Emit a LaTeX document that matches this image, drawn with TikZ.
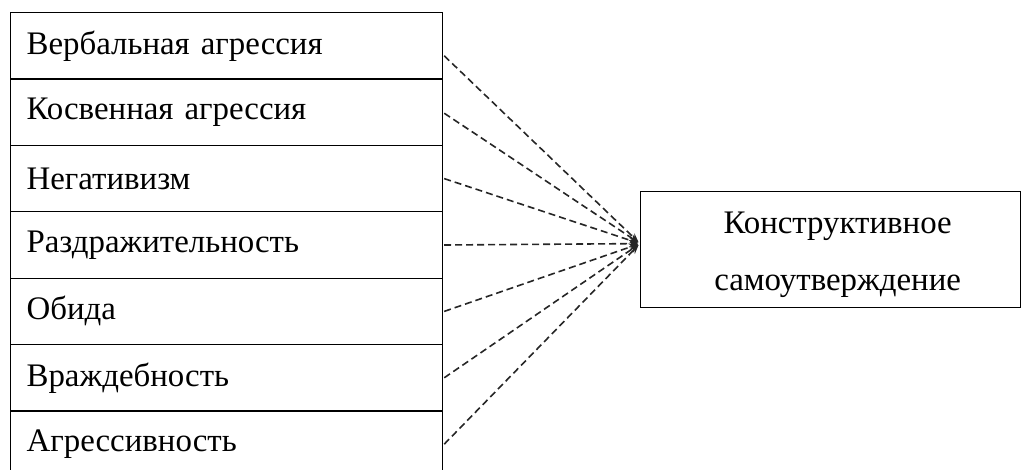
\documentclass[tikz,border=0pt]{standalone}
\usepackage{fontspec}
\setmainfont{Liberation Serif}
\usetikzlibrary{arrows.meta}
\tikzset{
  leftbox/.style={draw, line width=1.2bp, rectangle, anchor=north west,
    minimum width=432bp, minimum height=66.4bp, text width=400bp, align=left,
    inner xsep=16bp, inner ysep=0pt, font=\fontsize{33}{38}\selectfont},
  rightbox/.style={draw, line width=1.2bp, rectangle, anchor=north west,
    minimum width=380bp, minimum height=116bp, text width=370bp, align=center,
    inner sep=0pt, font=\fontsize{33}{58}\selectfont},
  link/.style={dashed, dash pattern=on 7bp off 4bp, line width=1.6bp, black!85,
    -{Stealth[length=9bp,width=7bp]}, shorten >=2bp}
}
\begin{document}
\begin{tikzpicture}[x=1bp,y=-1bp]
\useasboundingbox (0,0) rectangle (1022,470);
\node[leftbox] (b1) at (10,12.0) {Вербальная агрессия};
\node[leftbox] (b2) at (10,78.4) {Косвенная агрессия};
\node[leftbox] (b3) at (10,144.8) {Негативизм};
\node[leftbox] (b4) at (10,211.2) {Раздражительность};
\node[leftbox] (b5) at (10,277.6) {Обида};
\node[leftbox] (b6) at (10,344.0) {Враждебность};
\node[leftbox] (b7) at (10,410.4) {Агрессивность};
\node[rightbox] (c) at (640,191) {\raisebox{-6bp}[\height][\depth]{\hspace*{14bp}Конструктивное}\\\raisebox{-5bp}[\height][\depth]{\hspace*{14bp}самоутверждение}};
\coordinate (t) at ([yshift=6bp]c.west);
\draw[link] ([yshift=-10bp,xshift=1bp]b1.east) -- (t);
\draw[link] ([yshift=-1bp,xshift=1bp]b2.east) -- (t);
\draw[link] ([xshift=1bp]b3.east) -- (t);
\draw[link] ([xshift=1bp]b4.east) -- (t);
\draw[link] ([xshift=1bp]b5.east) -- (t);
\draw[link] ([xshift=1bp]b6.east) -- (t);
\draw[link] ([xshift=1bp]b7.east) -- (t);
\end{tikzpicture}
\end{document}
